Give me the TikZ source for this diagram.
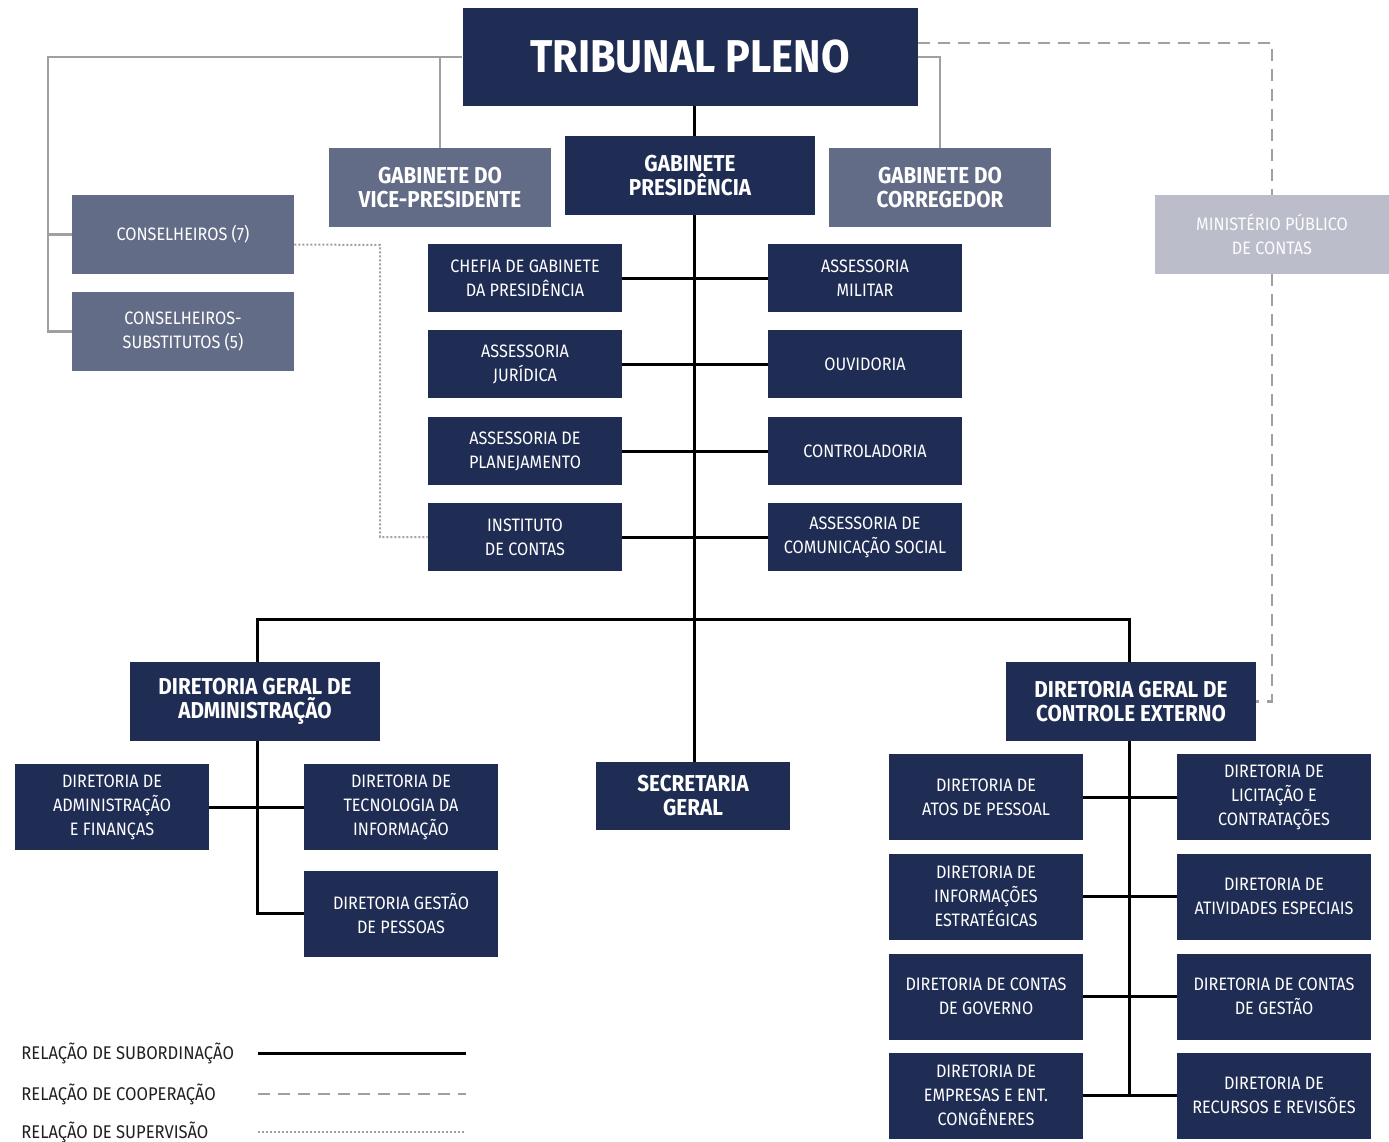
\documentclass[tikz,border=0pt]{standalone}
\usepackage{fontspec}
\setmainfont{Fira Sans}[FakeStretch=0.9]
\usepackage{tikz}
\usetikzlibrary{calc}

\definecolor{navy}{RGB}{31,44,84}
\definecolor{slate}{RGB}{99,108,135}
\definecolor{mist}{RGB}{187,189,203}
\definecolor{linegray}{RGB}{160,160,160}
\definecolor{inkgray}{RGB}{35,31,32}

\begin{document}
\begin{tikzpicture}[x=0.5pt,y=-0.5pt]
		\useasboundingbox (0,0) rectangle (1389,1142);
		\tikzstyle{base_block} = [rectangle, inner sep=0, align=center, text=white, font=\fontsize{9}{12}\selectfont]
		\tikzstyle{dark_block} = [base_block, fill=navy, minimum width=97pt, minimum height=34pt]
		\tikzstyle{dir_block} = [dark_block, minimum height=43pt]
		\tikzstyle{head_block} = [base_block, fill=navy, minimum width=125pt, minimum height=39.5pt, font=\fontsize{11.5}{12}\selectfont\bfseries]
		\tikzstyle{slate_block} = [head_block, fill=slate, minimum width=111pt]
		\tikzstyle{cons_block} = [base_block, fill=slate, minimum width=111pt, minimum height=39.5pt]
		\tikzstyle{mist_block} = [base_block, fill=mist, minimum width=117pt, minimum height=39.5pt, text=white!95!mist]
		\tikzstyle{sub_line} = [draw, black, line width=1.5pt]
		\tikzstyle{gray_line} = [draw, linegray, line width=1.2pt]
		\tikzstyle{coop_line} = [draw, linegray, line width=1.2pt, dash pattern=on 6pt off 4pt]
		\tikzstyle{sup_line} = [draw, linegray, line width=1pt, dash pattern=on 1pt off 1pt]
		\tikzstyle{legend_text} = [anchor=west, inner sep=0, text=inkgray, font=\fontsize{9.2}{12}\selectfont]

		\node[head_block, minimum width=227.5pt, minimum height=49pt, font=\fontsize{23}{24}\selectfont\bfseries] (trib) at (690,57) {TRIBUNAL PLENO};
		\node[head_block] (gpres) at (690,175.5) {GABINETE\\PRESIDÊNCIA};
		\node[slate_block] (vice) at (440,187.5) {GABINETE DO\\VICE-PRESIDENTE};
		\node[slate_block] (corr) at (940,187.5) {GABINETE DO\\CORREGEDOR};
		\node[cons_block] (cons) at (183,234.5) {CONSELHEIROS (7)};
		\node[cons_block] (csub) at (183,331.5) {CONSELHEIROS-\\SUBSTITUTOS (5)};
		\node[mist_block] (mpc) at (1272,234.5) {MINISTÉRIO PÚBLICO\\DE CONTAS};

		\node[dark_block] (chefia) at (525,278) {CHEFIA DE GABINETE\\DA PRESIDÊNCIA};
		\node[dark_block] (ajur) at (525,364) {ASSESSORIA\\JURÍDICA};
		\node[dark_block] (aplan) at (525,451) {ASSESSORIA DE\\PLANEJAMENTO};
		\node[dark_block] (inst) at (525,537) {INSTITUTO\\DE CONTAS};
		\node[dark_block] (amil) at (865,278) {ASSESSORIA\\MILITAR};
		\node[dark_block] (ouv) at (865,364) {OUVIDORIA};
		\node[dark_block] (contr) at (865,451) {CONTROLADORIA};
		\node[dark_block] (acom) at (865,537) {ASSESSORIA DE\\COMUNICAÇÃO SOCIAL};

		\node[head_block] (dga) at (255,701.5) {DIRETORIA GERAL DE\\ADMINISTRAÇÃO};
		\node[head_block] (dgce) at (1131,701.5) {DIRETORIA GERAL DE\\CONTROLE EXTERNO};
		\node[dark_block, font=\fontsize{11.5}{12}\selectfont\bfseries] (sec) at (693,796) {SECRETARIA\\GERAL};

		\node[dir_block] (daf) at (112,807) {DIRETORIA DE\\ADMINISTRAÇÃO\\E FINANÇAS};
		\node[dir_block] (dti) at (401,807) {DIRETORIA DE\\TECNOLOGIA DA\\INFORMAÇÃO};
		\node[dir_block] (dgp) at (401,913.5) {DIRETORIA GESTÃO\\DE PESSOAS};

		\node[dir_block] (datos) at (986,797) {DIRETORIA DE\\ATOS DE PESSOAL};
		\node[dir_block] (dinf) at (986,896.5) {DIRETORIA DE\\INFORMAÇÕES\\ESTRATÉGICAS};
		\node[dir_block] (dgov) at (986,996.5) {DIRETORIA DE CONTAS\\DE GOVERNO};
		\node[dir_block] (demp) at (986,1095.5) {DIRETORIA DE\\EMPRESAS E ENT.\\CONGÊNERES};
		\node[dir_block] (dlic) at (1274,797) {DIRETORIA DE\\LICITAÇÃO E\\CONTRATAÇÕES};
		\node[dir_block] (dativ) at (1274,896.5) {DIRETORIA DE\\ATIVIDADES ESPECIAIS};
		\node[dir_block] (dges) at (1274,996.5) {DIRETORIA DE CONTAS\\DE GESTÃO};
		\node[dir_block] (drec) at (1274,1095.5) {DIRETORIA DE\\RECURSOS E REVISÕES};

		\coordinate (bar) at (694,619);
		\coordinate (lbus) at (48,57);
		\coordinate (dotc) at (380,245);

		\draw[sub_line] (trib.south -| bar) -- (gpres.north -| bar);
		\draw[sub_line] (gpres.south -| bar) -- (sec.north -| bar);
		\draw[sub_line] (chefia.east) -- (amil.west);
		\draw[sub_line] (ajur.east) -- (ouv.west);
		\draw[sub_line] (aplan.east) -- (contr.west);
		\draw[sub_line] (inst.east) -- (acom.west);
		\draw[sub_line] (dga.north -| 257,0) |- (bar) -| (dgce.north -| 1129,0);

		\draw[sub_line] (dga.south -| 257,0) |- (dgp.west);
		\draw[sub_line] (daf.east) -- (dti.west);

		\draw[sub_line] (dgce.south -| 1129,0) -- (demp.east -| 1129,0);
		\draw[sub_line] (datos.east) -- (dlic.west);
		\draw[sub_line] (dinf.east) -- (dativ.west);
		\draw[sub_line] (dgov.east) -- (dges.west);
		\draw[sub_line] (demp.east) -- (drec.west);

		\draw[gray_line] (trib.west) -- (lbus) |- (csub.west);
		\draw[gray_line] (lbus |- cons.west) -- (cons.west);
		\draw[gray_line] (vice.north) -- (vice.north |- trib.west);
		\draw[gray_line] (trib.east) -| (corr.north);

		\draw[coop_line] ($(trib.east)+(0,-14)$) -| (mpc.north);
		\draw[coop_line] (mpc.south) |- (dgce.east);

		\draw[sup_line] ($(cons.east)+(0,10)$) -- (dotc) |- (inst.west);

		\node[legend_text] (lsub) at (21,1053) {RELAÇÃO DE SUBORDINAÇÃO};
		\node[legend_text] (lcoop) at (21,1094) {RELAÇÃO DE COOPERAÇÃO};
		\node[legend_text] (lsup) at (21,1132) {RELAÇÃO DE SUPERVISÃO};
		\draw[sub_line] (258,1053) -- (466,1053);
		\draw[coop_line] (258,1094) -- (466,1094);
		\draw[sup_line] (258,1132) -- (466,1132);
	\end{tikzpicture}
\end{document}
